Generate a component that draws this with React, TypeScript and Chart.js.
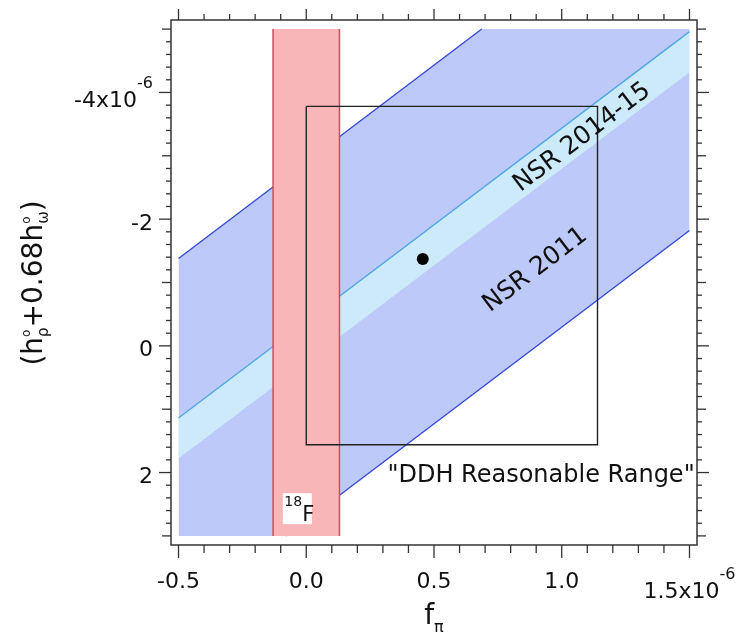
import React, { useEffect, useRef } from "react";
import { Chart, registerables } from "chart.js";

Chart.register(...registerables);

// Both axes in units of 1e-6.
const xDataRange = [-0.5, 1.5];
const yDataRange = [-5, 3];

const xTickValues = [-0.5, 0, 0.5, 1.0, 1.5];
const xTickLabels = ["-0.5", "0.0", "0.5", "1.0", "1.5x10"];
const yTickValues = [-4, -2, 0, 2];
const yTickLabels = ["-4x10", "-2", "0", "2"];
const tickExponent = "-6";

// Band edges, given as y at x = -0.5 and at x = 1.5.
const nsr2011Upper = [-1.38, -7.48];
const nsr2011Lower = [4.28, -1.82];
const nsr2014Upper = [1.14, -4.96];
const nsr2014Lower = [1.78, -4.32];

// 18F bound on f_pi.
const f18Range = [-0.13, 0.13];

// DDH "reasonable range" box and best value.
const ddhFpi = [0, 1.14];
const ddhH = [-3.78, 1.56];
const ddhBest = [{ x: 0.456, y: -1.37 }];

const FONT = '"DejaVu Sans", sans-serif';

type P = { x: number; y: number };

// Portion of an edge line lying inside the y range.
function edgeInside(edge: number[]): P[] {
  const [x0, x1] = xDataRange;
  const [ya, yb] = edge;
  const [lo, hi] = yDataRange;
  const tl = (lo - ya) / (yb - ya);
  const th = (hi - ya) / (yb - ya);
  const t0 = Math.max(0, Math.min(tl, th));
  const t1 = Math.min(1, Math.max(tl, th));
  const at = (t: number) => ({ x: x0 + t * (x1 - x0), y: ya + t * (yb - ya) });
  return [at(t0), at(t1)];
}

// Edge line clamped to the y range, for filling between edges.
function edgeClamped(edge: number[]): P[] {
  const [x0, x1] = xDataRange;
  const [ya, yb] = edge;
  const [lo, hi] = yDataRange;
  const ts = [0, 1];
  [(lo - ya) / (yb - ya), (hi - ya) / (yb - ya)].forEach((t) => {
    if (t > 0 && t < 1) ts.push(t);
  });
  ts.sort((a, b) => a - b);
  return ts.map((t) => ({
    x: x0 + t * (x1 - x0),
    y: Math.min(hi, Math.max(lo, ya + t * (yb - ya))),
  }));
}

function line(data: P[], opts: any) {
  return {
    data,
    pointRadius: 0,
    borderWidth: 0,
    fill: false,
    tension: 0,
    ...opts,
  };
}

function drawScripted(
  ctx: CanvasRenderingContext2D,
  parts: { t: string; size: number; dy: number; stackWith?: boolean }[],
  x: number,
  y: number,
  align: "left" | "center" | "right"
) {
  // sub/superscripts flagged stackWith share the previous piece's advance
  const widths: number[] = [];
  let total = 0;
  parts.forEach((p, i) => {
    ctx.font = `${p.size}px ${FONT}`;
    const w = ctx.measureText(p.t).width;
    widths.push(w);
    if (p.stackWith) total += Math.max(0, w - widths[i - 1]);
    else total += w;
  });
  let cx = align === "left" ? x : align === "center" ? x - total / 2 : x - total;
  let lastStart = cx;
  let lastW = 0;
  ctx.textAlign = "left";
  ctx.textBaseline = "alphabetic";
  parts.forEach((p, i) => {
    ctx.font = `${p.size}px ${FONT}`;
    if (p.stackWith) {
      ctx.fillText(p.t, lastStart, y + p.dy);
      const adv = Math.max(lastW, widths[i]);
      cx = lastStart + adv;
      lastW = adv;
    } else {
      ctx.fillText(p.t, cx, y + p.dy);
      lastStart = cx;
      lastW = widths[i];
      cx += widths[i];
    }
  });
}

const decorations = {
  id: "decorations",
  afterDatasetsDraw(chart: any) {
    const { ctx, chartArea: a } = chart;
    const xs = chart.scales.x;
    const ys = chart.scales.y;
    const px = (v: number) => xs.getPixelForValue(v);
    const py = (v: number) => ys.getPixelForValue(v);
    ctx.save();

    // 18F tag
    const tagX = px(-0.035);
    const tagY = py(2.57);
    ctx.fillStyle = "#ffffff";
    ctx.fillRect(tagX - 14.5, tagY - 15.5, 29, 31);
    ctx.fillStyle = "#111";
    drawScripted(
      ctx,
      [
        { t: "18", size: 14, dy: -3 },
        { t: "F", size: 21, dy: 12 },
      ],
      tagX - 13,
      tagY,
      "left"
    );

    // band labels, rotated along the bands
    const ang = Math.atan2(
      py(nsr2014Upper[1]) - py(nsr2014Upper[0]),
      px(xDataRange[1]) - px(xDataRange[0])
    );
    ctx.fillStyle = "#111";
    ctx.font = `25px ${FONT}`;
    ctx.textAlign = "center";
    ctx.textBaseline = "middle";
    [
      { t: "NSR 2014-15", x: 1.08, y: -3.29 },
      { t: "NSR 2011", x: 0.8965, y: -1.197 },
    ].forEach((l) => {
      ctx.save();
      ctx.translate(px(l.x), py(l.y));
      ctx.rotate(ang);
      ctx.fillText(l.t, 0, 0);
      ctx.restore();
    });
    ctx.font = `24px ${FONT}`;
    ctx.textBaseline = "alphabetic";
    ctx.fillText('"DDH Reasonable Range"', px(0.919), py(2.15));

    // frame
    ctx.strokeStyle = "#333";
    ctx.lineWidth = 1.5;
    ctx.strokeRect(a.left, a.top, a.right - a.left, a.bottom - a.top);
    const seg = (x1: number, y1: number, x2: number, y2: number) => {
      ctx.beginPath();
      ctx.moveTo(x1, y1);
      ctx.lineTo(x2, y2);
      ctx.stroke();
    };
    ctx.lineWidth = 1.3;
    for (let i = 0; i <= 20; i++) {
      const v = xDataRange[0] + i * 0.1;
      const p = px(v);
      const major = i % 5 === 0;
      seg(p, a.bottom, p, a.bottom + (major ? 13 : 8));
      seg(p, a.top, p, a.top - (major ? 11 : 6));
    }
    for (let i = 0; i <= 40; i++) {
      const v = yDataRange[0] + i / 5;
      const p = py(v);
      const len = i % 10 === 5 ? 12 : i % 10 === 0 ? 9 : 5;
      seg(a.left, p, a.left - len, p);
      seg(a.right, p, a.right + len, p);
    }

    // tick labels
    ctx.fillStyle = "#111";
    xTickValues.forEach((v, i) => {
      const last = i === xTickValues.length - 1;
      const parts = last
        ? [
            { t: xTickLabels[i], size: 22, dy: 10 },
            { t: tickExponent, size: 16, dy: -9 },
          ]
        : [{ t: xTickLabels[i], size: 22, dy: 0 }];
      drawScripted(ctx, parts, px(v), a.bottom + 43, "center");
    });
    yTickValues.forEach((v, i) => {
      const withExp = i === 0;
      const parts = withExp
        ? [
            { t: yTickLabels[i], size: 22, dy: 4 },
            { t: tickExponent, size: 16, dy: -15 },
          ]
        : [{ t: yTickLabels[i], size: 22, dy: 0 }];
      drawScripted(ctx, parts, a.left - 18, py(v) + 10.5, "right");
    });

    // axis titles
    drawScripted(
      ctx,
      [
        { t: "f", size: 28, dy: 0 },
        { t: "π", size: 16, dy: 8 },
      ],
      px(0.5),
      624,
      "center"
    );
    ctx.save();
    ctx.translate(42, 283);
    ctx.rotate(-Math.PI / 2);
    drawScripted(
      ctx,
      [
        { t: "(h", size: 28, dy: 0 },
        { t: "ρ", size: 15, dy: 6 },
        { t: "o", size: 12, dy: -12, stackWith: true },
        { t: "+0.68h", size: 28, dy: 0 },
        { t: "ω", size: 15, dy: 6 },
        { t: "o", size: 12, dy: -12, stackWith: true },
        { t: ")", size: 28, dy: 0 },
      ],
      0,
      0,
      "center"
    );
    ctx.restore();

    ctx.restore();
  },
};

export default function App() {
  const ref = useRef<HTMLCanvasElement>(null);
  useEffect(() => {
    if (!ref.current) return;
    const [f0, f1] = f18Range;
    const [yLo, yHi] = yDataRange;
    const box: P[] = [
      { x: ddhFpi[0], y: ddhH[0] },
      { x: ddhFpi[1], y: ddhH[0] },
      { x: ddhFpi[1], y: ddhH[1] },
      { x: ddhFpi[0], y: ddhH[1] },
      { x: ddhFpi[0], y: ddhH[0] },
    ];
    const datasets: any[] = [
      // 0,1: NSR 2011 band fill
      line(edgeClamped(nsr2011Upper), { fill: "+1", backgroundColor: "#bdc9f8", order: 20 }),
      line(edgeClamped(nsr2011Lower), { order: 20 }),
      // 2,3: NSR 2014-15 band fill
      line(edgeClamped(nsr2014Upper), { fill: "+1", backgroundColor: "#cdeafb", order: 18 }),
      line(edgeClamped(nsr2014Lower), { order: 18 }),
      // band edge lines
      line(edgeInside(nsr2011Upper), { borderWidth: 1.3, borderColor: "#3346d6", order: 16 }),
      line(edgeInside(nsr2011Lower), { borderWidth: 1.3, borderColor: "#3346d6", order: 16 }),
      line(edgeInside(nsr2014Upper), { borderWidth: 1.3, borderColor: "#4ea6e6", order: 16 }),
      // 7,8: 18F strip
      line([{ x: f0, y: yLo }, { x: f1, y: yLo }], { fill: "+1", backgroundColor: "#f9b6b9", order: 14 }),
      line([{ x: f0, y: yHi }, { x: f1, y: yHi }], { order: 14 }),
      line([{ x: f0, y: yLo }, { x: f0, y: yHi }], { borderWidth: 1.5, borderColor: "#d9485e", order: 12 }),
      line([{ x: f1, y: yLo }, { x: f1, y: yHi }], { borderWidth: 1.5, borderColor: "#d9485e", order: 12 }),
      // DDH box
      line(box, { borderWidth: 1.4, borderColor: "#222", order: 10 }),
      // DDH best value
      {
        data: ddhBest,
        showLine: false,
        pointRadius: 6,
        pointBackgroundColor: "#000",
        pointBorderWidth: 0,
        order: 8,
      },
    ];
    const chart = new Chart(ref.current, {
      type: "line",
      data: { datasets },
      options: {
        animation: false,
        responsive: false,
        devicePixelRatio: 1,
        events: [],
        layout: { padding: { left: 171, right: 41, top: 20, bottom: 88 } },
        plugins: { legend: { display: false }, tooltip: { enabled: false } },
        scales: {
          x: { type: "linear", min: -0.5294, max: 1.5294, display: false },
          y: { type: "linear", min: -5.1436, max: 3.1436, reverse: true, display: false },
        },
      },
      plugins: [decorations],
    });
    return () => chart.destroy();
  }, []);
  return (
    <div style={{ position: "absolute", left: 0, top: 0, width: 738, height: 633, background: "#fff" }}>
      <canvas ref={ref} width={738} height={633} />
    </div>
  );
}
